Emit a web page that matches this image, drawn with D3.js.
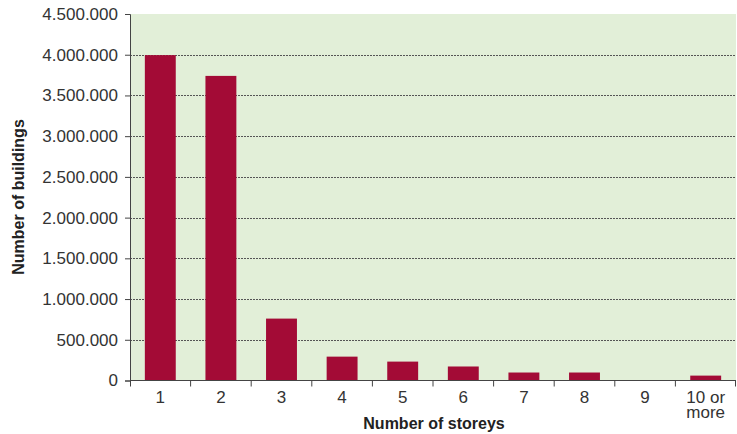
<!DOCTYPE html>
<html>
<head>
<meta charset="utf-8">
<script src="https://cdn.jsdelivr.net/npm/d3@7"></script>
<style>
  body { margin: 0; background: #fff; }
  svg { display: block; font-family: "Liberation Sans", Arial, Helvetica, sans-serif; }
</style>
</head>
<body>
<svg id="chart" width="737" height="434"></svg>
<script>
// Buildings by number of storeys
const categories = ["1", "2", "3", "4", "5", "6", "7", "8", "9", "10 or more"];
const buildings = [3995000, 3740000, 760000, 293000, 232000, 172000, 98000, 98000, 0, 60000];
const yTicks = [0, 500000, 1000000, 1500000, 2000000, 2500000, 3000000, 3500000, 4000000, 4500000];

const svg = d3.select("#chart");
const plotL = 130, plotR = 736, plotT = 14, plotB = 380.5;

const x = d3.scaleBand().domain(categories).range([plotL, plotR]).paddingInner(0.49).paddingOuter(0.245);
const xEdges = d3.scaleBand().domain(categories).range([plotL, plotR]).padding(0);
const y = d3.scaleLinear().domain([0, 4500000]).range([plotB, plotT]);

const fmt = v => d3.format(",")(v).replace(/,/g, ".");

// plot background
svg.append("rect")
  .attr("x", plotL).attr("y", plotT)
  .attr("width", plotR - plotL).attr("height", plotB - plotT)
  .attr("fill", "#e2efd8");

// horizontal gridlines
svg.append("g").selectAll("line")
  .data(yTicks.filter(d => d > 0 && d < 4500000))
  .join("line")
  .attr("x1", plotL).attr("x2", plotR)
  .attr("y1", d => Math.round(y(d)) + 0.5).attr("y2", d => Math.round(y(d)) + 0.5)
  .attr("stroke", "#555")
  .attr("stroke-width", 1)
  .attr("stroke-dasharray", "2,1");

// bars
svg.append("g").selectAll("rect")
  .data(categories.map((c, i) => ({ c, v: buildings[i] })))
  .join("rect")
  .attr("x", d => x(d.c))
  .attr("width", x.bandwidth())
  .attr("y", d => y(d.v))
  .attr("height", d => plotB - y(d.v))
  .attr("fill", "#a30b36");

// y axis
const yAxis = d3.axisLeft(y).tickValues(yTicks).tickSize(5).tickPadding(7).tickFormat(fmt);
const gy = svg.append("g").attr("transform", `translate(${plotL},0)`).call(yAxis);
gy.attr("font-size", null).attr("font-family", null);
gy.select(".domain").attr("stroke", "#444");
gy.selectAll(".tick line").attr("stroke", "#444");
gy.selectAll(".tick text")
  .style("font-size", "17px")
  .style("font-family", "'Liberation Sans', Arial, sans-serif")
  .attr("fill", "#333");

// x axis baseline and separator ticks
const gx = svg.append("g");
gx.append("line").attr("x1", plotL).attr("x2", plotR)
  .attr("y1", plotB).attr("y2", plotB).attr("stroke", "#444");
gx.selectAll("line.sep")
  .data(categories.slice(1).map(c => xEdges(c)).concat([plotL + 0.5, plotR - 0.5]))
  .join("line").attr("class", "sep")
  .attr("x1", d => d).attr("x2", d => d)
  .attr("y1", plotB).attr("y2", plotB + 6)
  .attr("stroke", "#444");

// x tick labels, the last one on two lines
const lbl = gx.selectAll("text.xl")
  .data(categories)
  .join("text").attr("class", "xl")
  .attr("text-anchor", "middle")
  .style("font-size", "17px")
  .attr("fill", "#333")
  .attr("x", d => x(d) + x.bandwidth() / 2)
  .attr("y", 402.5);
lbl.each(function (d) {
  const t = d3.select(this);
  const lines = d === "10 or more" ? ["10 or", "more"] : [d];
  lines.forEach((s, i) => {
    t.append("tspan").attr("x", x(d) + x.bandwidth() / 2).attr("dy", i === 0 ? 0 : 15).text(s);
  });
});

// axis titles
svg.append("text")
  .attr("x", 434).attr("y", 428.5)
  .attr("text-anchor", "middle")
  .style("font-size", "16px").attr("font-weight", "bold").attr("fill", "#222")
  .text("Number of storeys");

svg.append("text")
  .attr("transform", "translate(24,197) rotate(-90)")
  .attr("text-anchor", "middle")
  .style("font-size", "16px").attr("font-weight", "bold").attr("fill", "#222")
  .text("Number of buildings");
</script>
</body>
</html>
